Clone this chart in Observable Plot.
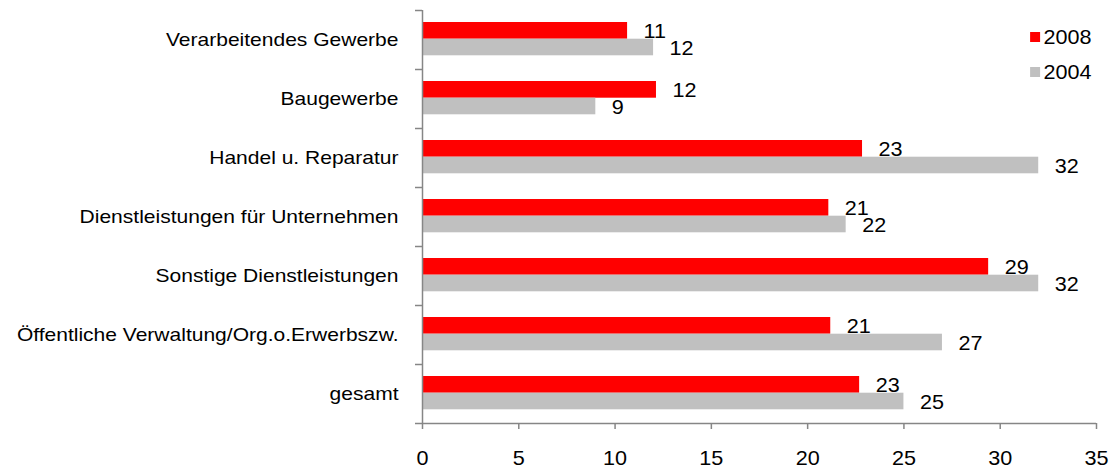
<!DOCTYPE html>
<html><head><meta charset="utf-8">
<script src="https://cdn.jsdelivr.net/npm/d3@7"></script>
<script src="https://cdn.jsdelivr.net/npm/@observablehq/plot@0.6"></script>
<style>
body{margin:0;background:#fff;}
#chart svg{font-family:"Liberation Sans",Arial,sans-serif;}
</style>
</head><body><div id="chart"></div>
<script>
const categories = [
  "Verarbeitendes Gewerbe",
  "Baugewerbe",
  "Handel u. Reparatur",
  "Dienstleistungen für Unternehmen",
  "Sonstige Dienstleistungen",
  "Öffentliche Verwaltung/Org.o.Erwerbszw.",
  "gesamt"
];
const seriesNames = ["2008", "2004"];
const values2008 = [10.65, 12.15, 22.85, 21.1, 29.4, 21.2, 22.7];
const values2004 = [12.0, 9.0, 32.0, 22.0, 32.0, 27.0, 25.0];
const labels2008 = [11, 12, 23, 21, 29, 21, 23];
const labels2004 = [12, 9, 32, 22, 32, 27, 25];
const xTicks = [0, 5, 10, 15, 20, 25, 30, 35];

const colors = {"2008": "#FF0000", "2004": "#C0C0C0"};
const axisGray = "#868686";

const rows2008 = categories.map((c, i) => ({category: c, value: values2008[i], label: String(labels2008[i])}));
const rows2004 = categories.map((c, i) => ({category: c, value: values2004[i], label: String(labels2004[i])}));

const W = 1116, H = 470, mT = 10, mB = 47;
const bw = (H - mT - mB) / categories.length;

const chart = Plot.plot({
  width: W,
  height: H,
  marginLeft: 422,
  marginRight: 20,
  marginTop: mT,
  marginBottom: mB,
  style: {fontFamily: '"Liberation Sans", Arial, sans-serif', background: "#fff"},
  x: {domain: [0, 35], label: null},
  y: {domain: categories, padding: 0, label: null},
  marks: [
    Plot.barX(rows2008, {x: "value", y: "category", fill: colors["2008"], insetTop: 12, insetBottom: 30.3}),
    Plot.barX(rows2004, {x: "value", y: "category", fill: colors["2004"], insetTop: 28.7, insetBottom: 13.7}),
    Plot.text(rows2008, {x: "value", y: "category", text: "label", dx: 16, dy: -8.2, textAnchor: "start", fontSize: 20, fill: "#000"}),
    Plot.text(rows2004, {x: "value", y: "category", text: "label", dx: 16, dy: 8.6, textAnchor: "start", fontSize: 20, fill: "#000"}),
    Plot.ruleX([0], {stroke: axisGray, strokeWidth: 1.5}),
    Plot.ruleY(categories, {y: d => d, x1: 0, x2: 0, insetLeft: -7, dy: -bw / 2, stroke: axisGray, strokeWidth: 1.5}),
    Plot.ruleY([categories[categories.length - 1]], {y: d => d, x1: 0, x2: 35, insetLeft: -7, dy: bw / 2, stroke: axisGray, strokeWidth: 1.5}),
    Plot.axisY({tickSize: 0, tickPadding: 24, fontSize: 18.2, fill: "#000"}),
    Plot.axisX(xTicks, {tickSize: 6, tickPadding: 21, fontSize: 20, stroke: axisGray, strokeWidth: 1.5, fill: "#000"}),
    Plot.dot([seriesNames[0]], {frameAnchor: "top-right", dx: -61.4, dy: 26.5, symbol: "square", r: 5.64, fill: colors["2008"], stroke: null}),
    Plot.text([seriesNames[0]], {frameAnchor: "top-right", text: d => d, dx: -53, dy: 27, textAnchor: "start", lineAnchor: "middle", fontSize: 20, fill: "#000"}),
    Plot.dot([seriesNames[1]], {frameAnchor: "top-right", dx: -61.4, dy: 61.5, symbol: "square", r: 5.64, fill: colors["2004"], stroke: null}),
    Plot.text([seriesNames[1]], {frameAnchor: "top-right", text: d => d, dx: -53, dy: 62, textAnchor: "start", lineAnchor: "middle", fontSize: 20, fill: "#000"})
  ]
});

// The reference text is drawn a little wider than plain Arial: widen glyphs about their anchor point.
const yLabels = new Set(chart.querySelectorAll('g[aria-label="y-axis tick label"] text'));
chart.querySelectorAll("text").forEach(t => {
  const s = yLabels.has(t) ? 1.155 : 1.08;
  const tr = t.getAttribute("transform") || "";
  t.setAttribute("transform", `${tr} scale(${s},1)`);
});

document.getElementById("chart").appendChild(chart);
</script>
</body></html>
